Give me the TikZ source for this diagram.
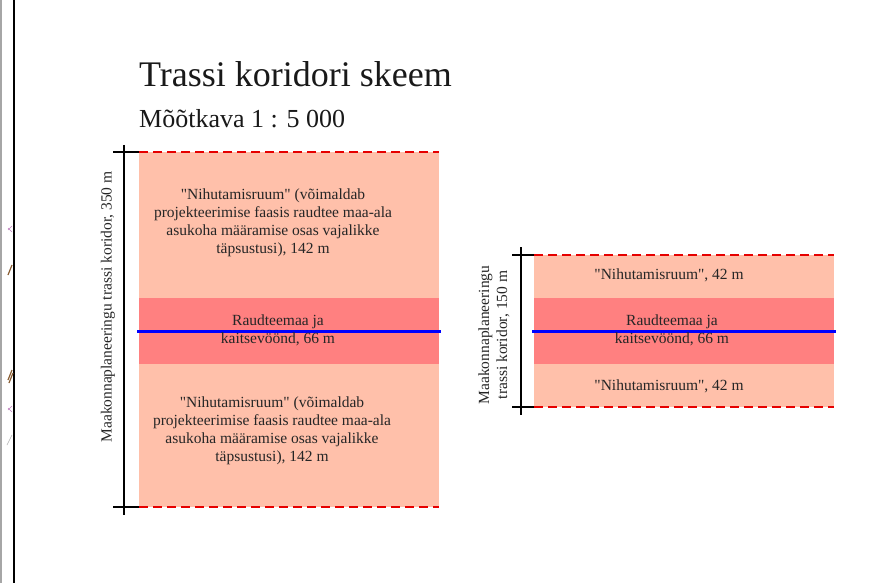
\documentclass[tikz,border=0pt]{standalone}
\usepackage{fontspec}
\setmainfont{Liberation Serif}
\newfontfamily\qfont{Liberation Serif}
\definecolor{lightband}{RGB}{255,192,170}
\definecolor{darkband}{RGB}{255,128,128}
\definecolor{dashred}{RGB}{230,0,0}
\tikzset{
  bodytext/.style={font=\qfont\fontsize{15.5}{18}\selectfont, align=center, inner sep=0pt, text=black!85},
  edgedash/.style={dashred, line width=1.8pt, dash pattern=on 9pt off 5pt},
  railline/.style={blue, line width=3pt},
  dimline/.style={black, line width=2.6pt},
}
\begin{document}
\begin{tikzpicture}[x=1pt,y=-1pt]
\useasboundingbox (0,0) rectangle (895,583);
\fill[white] (0,0) rectangle (895,583);
% left page border
\draw[gray!70, line width=2pt] (1,0) -- (1,583);
\draw[black, line width=2pt] (14,0) -- (14,583);
\draw[violet!50, line width=0.6pt] (8,230) -- (12,226) (8,228) -- (12,232);
\draw[brown!70!black, line width=1.2pt] (8,275) -- (12,265);
\draw[violet!50, line width=0.6pt] (8,410) -- (12,406) (8,408) -- (12,412);
\draw[brown!70!black, line width=1.2pt] (8,380) -- (12,370) (9,383) -- (13,373);
\draw[gray!60, line width=0.6pt] (7,445) -- (12,435);

% title
\node[anchor=base west, inner sep=0pt, font=\fontsize{36}{42}\selectfont, text=black!90] (title) at (139,87) {Trassi koridori skeem};
\node[anchor=base west, inner sep=0pt, font=\fontsize{26}{30}\selectfont, text=black!90] (scale) at (139,128) {Mõõtkava 1 : 5 000};

% ---------- left scheme ----------
\fill[lightband] (139,152) rectangle (439,507);
\fill[darkband] (139,298) rectangle (439,364);
\coordinate (LtopL) at (139,152);
\coordinate (LtopR) at (439,152);
\coordinate (LbotL) at (139,507);
\coordinate (LbotR) at (439,507);
\draw[edgedash] (LtopL) -- (LtopR);
\draw[edgedash] (LbotL) -- (LbotR);
\coordinate (LrailL) at (137,331);
\coordinate (LrailR) at (441,331);
\draw[railline] (LrailL) -- (LrailR);
\coordinate (LdimT) at (124,145);
\coordinate (LdimB) at (124,515);
\draw[dimline] (LdimT) -- (LdimB);
\coordinate (LtickT) at (113,152);
\coordinate (LtickB) at (113,507);
\draw[dimline] (LtickT) -- (LtopL);
\draw[dimline] (LtickB) -- (LbotL);
\node[bodytext, rotate=90] (Llabel) at (108,307) {Maakonnaplaneeringu trassi koridor, 350 m};
\node[bodytext] (Ltop) at (273,223) {"Nihutamisruum" (võimaldab\\projekteerimise faasis raudtee maa-ala\\asukoha määramise osas vajalikke\\täpsustusi), 142 m};
\node[bodytext] (Lmid) at (278,330) {Raudteemaa ja\\kaitsevöönd, 66 m};
\node[bodytext] (Lbot) at (272,431) {"Nihutamisruum" (võimaldab\\projekteerimise faasis raudtee maa-ala\\asukoha määramise osas vajalikke\\täpsustusi), 142 m};

% ---------- right scheme ----------
\fill[lightband] (534,255) rectangle (834,407);
\fill[darkband] (534,298) rectangle (834,364);
\coordinate (RtopL) at (534,255);
\coordinate (RtopR) at (834,255);
\coordinate (RbotL) at (534,407);
\coordinate (RbotR) at (834,407);
\draw[edgedash] (RtopL) -- (RtopR);
\draw[edgedash] (RbotL) -- (RbotR);
\coordinate (RrailL) at (532,331);
\coordinate (RrailR) at (836,331);
\draw[railline] (RrailL) -- (RrailR);
\coordinate (RdimT) at (521,247);
\coordinate (RdimB) at (521,415);
\draw[dimline] (RdimT) -- (RdimB);
\coordinate (RtickT) at (512,255);
\coordinate (RtickB) at (512,407);
\draw[dimline] (RtickT) -- (RtopL);
\draw[dimline] (RtickB) -- (RbotL);
\node[bodytext, rotate=90] (Rlabel) at (494,335) {Maakonnaplaneeringu\\trassi koridor, 150 m};
\node[bodytext] (Rtop) at (669,275) {"Nihutamisruum", 42 m};
\node[bodytext] (Rmid) at (672,330) {Raudteemaa ja\\kaitsevöönd, 66 m};
\node[bodytext] (Rbot) at (669,386) {"Nihutamisruum", 42 m};
\end{tikzpicture}
\end{document}
